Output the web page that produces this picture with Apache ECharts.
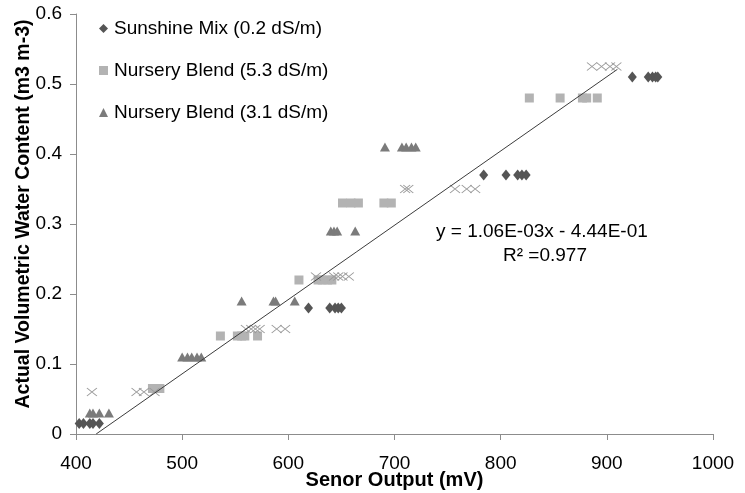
<!DOCTYPE html>
<html><head><meta charset="utf-8">
<script src="https://cdn.jsdelivr.net/npm/echarts@6/dist/echarts.min.js"></script>
<style>html,body{margin:0;padding:0;background:#fff}#c{width:745px;height:493px}</style>
</head><body><div id="c"></div>
<script>
// Sunshine Mix (0.2 dS/m) - diamonds
const sunshineX = [403, 407, 413, 416, 422, 619, 639, 644, 647, 650, 784, 805, 816, 820, 824, 924, 939, 943, 946, 948];
const sunshineY = [0.015, 0.015, 0.015, 0.015, 0.015, 0.18, 0.18, 0.18, 0.18, 0.18, 0.37, 0.37, 0.37, 0.37, 0.37, 0.51, 0.51, 0.51, 0.51, 0.51];
// Nursery Blend (5.3 dS/m) - squares
const blend53X = [472, 476, 479, 536, 552, 556, 559, 571, 610, 628, 632, 637, 641, 651, 659, 666, 690, 697, 827, 856, 877, 881, 891];
const blend53Y = [0.065, 0.065, 0.065, 0.14, 0.14, 0.14, 0.14, 0.14, 0.22, 0.22, 0.22, 0.22, 0.22, 0.33, 0.33, 0.33, 0.33, 0.33, 0.48, 0.48, 0.48, 0.48, 0.48];
// Nursery Blend (3.1 dS/m) - triangles
const blend31X = [413, 416, 422, 431, 500, 505, 509, 514, 518, 556, 586, 588, 606, 640, 643, 646, 663, 691, 707, 711, 716, 720];
const blend31Y = [0.03, 0.03, 0.03, 0.03, 0.11, 0.11, 0.11, 0.11, 0.11, 0.19, 0.19, 0.19, 0.19, 0.29, 0.29, 0.29, 0.29, 0.41, 0.41, 0.41, 0.41, 0.41];
// Unlabelled series - crosses
const crossX = [415, 457, 464, 474, 560, 565, 569, 573, 589, 597, 626, 643, 647, 651, 657, 710, 713, 757, 768, 776, 886, 895, 903, 909];
const crossY = [0.06, 0.06, 0.06, 0.06, 0.15, 0.15, 0.15, 0.15, 0.15, 0.15, 0.225, 0.225, 0.225, 0.225, 0.225, 0.35, 0.35, 0.35, 0.35, 0.35, 0.525, 0.525, 0.525, 0.525];
// Linear trend line endpoints
const trendX = [419, 910];
const trendY = [0, 0.521];
const seriesNames = ['Sunshine Mix (0.2 dS/m)', 'Nursery Blend (5.3 dS/m)', 'Nursery Blend (3.1 dS/m)'];
const xTitle = 'Senor Output (mV)';
const yTitle = 'Actual Volumetric Water Content (m3 m-3)';
const eqLine1 = 'y = 1.06E-03x - 4.44E-01';
const eqLine2 = 'R² =0.977';

const zip = (xs, ys) => xs.map((x, i) => [x, ys[i]]);
const FONT = '"Liberation Sans", Arial, sans-serif';

const chart = echarts.init(document.getElementById('c'), null, {renderer: 'canvas'});
chart.setOption({
  animation: false,
  backgroundColor: '#fff',
  textStyle: {fontFamily: FONT},
  grid: {left: 76, right: 32, top: 14, bottom: 59, containLabel: false, outerBoundsMode: 'none'},
  legend: {
    data: seriesNames,
    orient: 'vertical',
    left: 94, top: 14,
    itemWidth: 9, itemHeight: 9, itemGap: 23,
    textStyle: {fontFamily: FONT, fontSize: 19, color: '#000', padding: [0, 0, 0, 1]}
  },
  xAxis: {
    type: 'value', min: 400, max: 1000, interval: 100,
    name: xTitle, nameLocation: 'middle', nameGap: 36, nameMoveOverlap: false,
    nameTextStyle: {fontFamily: FONT, fontSize: 20, fontWeight: 'bold', color: '#000'},
    axisLine: {lineStyle: {color: '#8c8c8c'}},
    axisTick: {length: 6, lineStyle: {color: '#8c8c8c'}},
    axisLabel: {fontFamily: FONT, fontSize: 19, color: '#000', margin: 20, formatter: v => String(v)},
    splitLine: {show: false}
  },
  yAxis: {
    type: 'value', min: 0, max: 0.6, interval: 0.1,
    name: yTitle, nameLocation: 'middle', nameGap: 42, nameMoveOverlap: false,
    nameTextStyle: {fontFamily: FONT, fontSize: 19.5, fontWeight: 'bold', color: '#000', padding: [0, 0, 0, 20]},
    axisLine: {show: true, lineStyle: {color: '#8c8c8c'}},
    axisTick: {show: true, length: 6, lineStyle: {color: '#8c8c8c'}},
    axisLabel: {fontFamily: FONT, fontSize: 19, color: '#000', margin: 14},
    splitLine: {show: false}
  },
  series: [
    {name: seriesNames[0], type: 'scatter', symbol: 'diamond', symbolSize: [9, 11],
     itemStyle: {color: '#555555', opacity: 1}, data: zip(sunshineX, sunshineY), z: 3},
    {name: seriesNames[1], type: 'scatter', symbol: 'rect', symbolSize: 9,
     itemStyle: {color: '#b3b3b3', opacity: 1}, data: zip(blend53X, blend53Y), z: 2},
    {name: seriesNames[2], type: 'scatter', symbol: 'triangle', symbolSize: [10, 9],
     itemStyle: {color: '#7b7b7b', opacity: 1}, data: zip(blend31X, blend31Y), z: 2},
    {name: 'crosses', type: 'scatter', symbol: 'path://M0,0L10,8M10,0L0,8', symbolSize: [10, 8],
     itemStyle: {color: 'rgba(0,0,0,0)', borderColor: '#9a9a9a', borderWidth: 1, opacity: 1},
     data: zip(crossX, crossY), z: 2},
    {name: 'trend', type: 'line', data: zip(trendX, trendY), symbol: 'none',
     lineStyle: {color: '#3c3c3c', width: 1}, z: 4, silent: true}
  ],
  graphic: [
    {type: 'text', left: 436, top: 222, z: 10,
     style: {text: eqLine1, fontFamily: FONT, fontSize: 19, fill: '#000'}},
    {type: 'text', left: 503, top: 246, z: 10,
     style: {text: eqLine2, fontFamily: FONT, fontSize: 19, fill: '#000'}}
  ]
});
</script></body></html>
